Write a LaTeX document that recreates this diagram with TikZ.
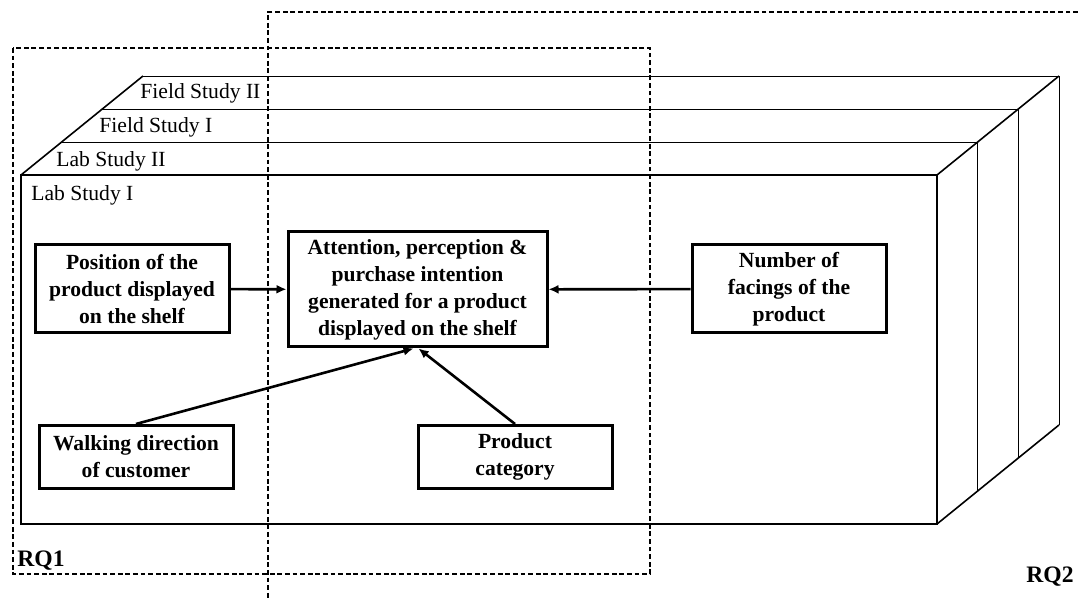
\documentclass[tikz,border=0pt]{standalone}
\usepackage{fontspec}
\setmainfont{Liberation Serif}
\usetikzlibrary{arrows.meta}

\begin{document}
\begin{tikzpicture}[x=0.5pt,y=-0.5pt,
  box/.style={draw,line width=1.5pt,align=center,inner sep=0pt,
              font=\bfseries\fontsize{10.8}{13.5}\selectfont},
  layer/.style={line width=0.45pt},
  edge/.style={line width=0.8pt},
  rq/.style={line width=0.65pt,dash pattern=on 2.4pt off 1.4pt},
  flow/.style={line width=1.3pt,-{Latex[length=5pt,width=4.5pt]}},
  study/.style={anchor=base west,inner sep=0pt,font=\fontsize{10.8}{12}\selectfont},
  rqlabel/.style={inner sep=0pt,font=\bfseries\fontsize{11.8}{13}\selectfont}]
\useasboundingbox (0,0) rectangle (1078,598);
% back layers of the study stack
\foreach \k in {3,2,1} {
  \draw[layer] (21+40.7*\k,175-33*\k) -- (937+40.7*\k,175-33*\k)
    -- (937+40.7*\k,524-33*\k);
}
% front face and depth edges
\draw[edge] (21,175) rectangle (937,524);
\draw[edge] (21,175) -- (143,76);
\draw[edge] (937,175) -- (1059,76);
\draw[edge] (937,524) -- (1059,425);
\node[study] (fieldtwo) at (140,99) {Field Study II};
\node[study] (fieldone) at (99,133) {Field Study I};
\node[study] (labtwo) at (56,167) {Lab Study II};
\node[study] (labone) at (31,201) {Lab Study I};
% research questions
\draw[rq] (13,48) rectangle (650,574);
\draw[rq] (1078,12) -- (268,12) -- (268,598);
\node[rqlabel,anchor=base west] (rqone) at (17,567) {RQ1};
\node[rqlabel,anchor=base east] (rqtwo) at (1074,583) {RQ2};
% model
\node[box,minimum width=97pt,minimum height=44pt] (pos) at (132,289)
  {Position of the\\product displayed\\on the shelf};
\node[box,minimum width=129.5pt,minimum height=57.5pt] (outcome) at (417.5,289.5)
  {Attention, perception \&\\purchase intention\\generated for a product\\displayed on the shelf};
\node[box,minimum width=97pt,minimum height=44pt] (facings) at (789,289)
  {Number of\\facings of the\\product};
\node[box,minimum width=97pt,minimum height=31.5pt] (walk) at (136,457)
  {Walking direction\\of customer};
\node[box,minimum width=97pt,minimum height=31.5pt] (categ) at (515,457)
  {Product\\category};
\draw[flow] (pos) -- (outcome);
\draw[flow] (facings) -- (outcome);
\draw[flow] (walk.north) -- ([xshift=-2pt]outcome.south);
\draw[flow] (categ.north) -- ([xshift=0.5pt]outcome.south);
\end{tikzpicture}
\end{document}
